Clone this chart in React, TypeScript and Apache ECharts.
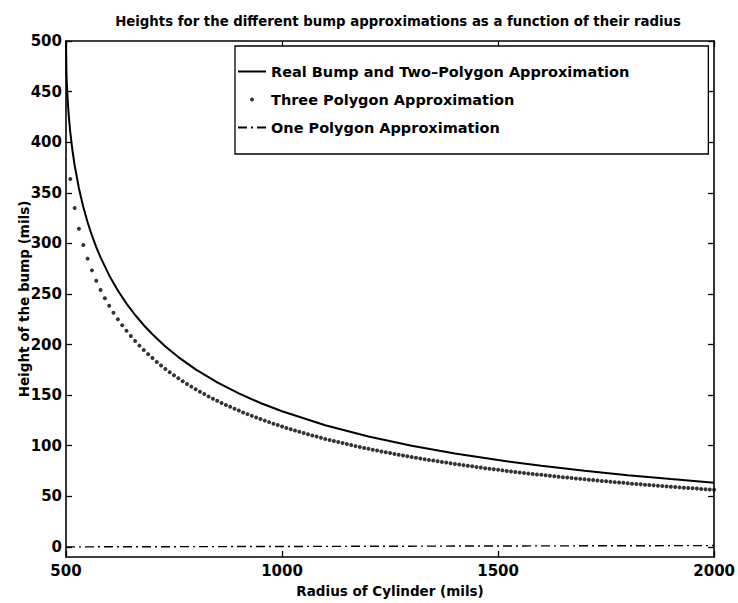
import React, { useEffect, useRef } from "react";
import * as echarts from "echarts";

const FONT = "'DejaVu Sans', 'Liberation Sans', sans-serif";

const titleText = "Heights for the different bump approximations as a function of their radius";
const xAxisName = "Radius of Cylinder (mils)";
const yAxisName = "Height of the bump (mils)";
const seriesNames = [
  "Real Bump and Two\u2013Polygon Approximation",
  "Three Polygon Approximation",
  "One Polygon Approximation",
];

const yTickValues = [0, 50, 100, 150, 200, 250, 300, 350, 400, 450, 500];

// Real bump (and two-polygon approximation)
const realRadius = [500, 501, 502, 504, 507, 510, 515, 520, 530, 540, 550, 560, 570, 580, 600, 620, 640, 660, 680, 700, 730, 760, 800, 850, 900, 950, 1000, 1100, 1200, 1300, 1400, 1500, 1600, 1700, 1800, 1900, 2000];
const realHeight = [500, 469.4, 457.2, 440.6, 423.0, 409.5, 391.6, 377.2, 354.2, 336.0, 320.9, 307.8, 296.3, 286.1, 268.3, 253.4, 240.5, 229.2, 219.1, 210.1, 198.1, 187.6, 175.5, 162.6, 151.7, 142.2, 134.0, 120.2, 109.1, 100.0, 92.3, 85.8, 80.1, 75.2, 70.8, 67.0, 63.5];

// Three polygon approximation (dots)
const threeRadius = [
  510, 520, 530, 540, 550, 560, 570, 580, 590, 600,
  610, 620, 630, 640, 650, 660, 670, 680, 690, 700,
  710, 720, 730, 740, 750, 760, 770, 780, 790, 800,
  810, 820, 830, 840, 850, 860, 870, 880, 890, 900,
  910, 920, 930, 940, 950, 960, 970, 980, 990, 1000,
  1010, 1020, 1030, 1040, 1050, 1060, 1070, 1080, 1090, 1100,
  1110, 1120, 1130, 1140, 1150, 1160, 1170, 1180, 1190, 1200,
  1210, 1220, 1230, 1240, 1250, 1260, 1270, 1280, 1290, 1300,
  1310, 1320, 1330, 1340, 1350, 1360, 1370, 1380, 1390, 1400,
  1410, 1420, 1430, 1440, 1450, 1460, 1470, 1480, 1490, 1500,
  1510, 1520, 1530, 1540, 1550, 1560, 1570, 1580, 1590, 1600,
  1610, 1620, 1630, 1640, 1650, 1660, 1670, 1680, 1690, 1700,
  1710, 1720, 1730, 1740, 1750, 1760, 1770, 1780, 1790, 1800,
  1810, 1820, 1830, 1840, 1850, 1860, 1870, 1880, 1890, 1900,
  1910, 1920, 1930, 1940, 1950, 1960, 1970, 1980, 1990, 2000,
];
const threeHeight = [
  363.6, 335.0, 314.5, 298.4, 284.9, 273.3, 263.1, 254.0, 245.8, 238.3,
  231.4, 225.0, 219.1, 213.6, 208.4, 203.5, 198.9, 194.6, 190.5, 186.6,
  182.8, 179.3, 175.9, 172.7, 169.6, 166.6, 163.8, 161.0, 158.4, 155.8,
  153.4, 151.0, 148.7, 146.5, 144.4, 142.3, 140.3, 138.4, 136.5, 134.7,
  132.9, 131.2, 129.5, 127.9, 126.3, 124.8, 123.3, 121.8, 120.4, 119.0,
  117.6, 116.3, 115.0, 113.7, 112.5, 111.3, 110.1, 109.0, 107.8, 106.7,
  105.7, 104.6, 103.6, 102.6, 101.6, 100.6, 99.6, 98.7, 97.8, 96.9,
  96.0, 95.2, 94.3, 93.5, 92.7, 91.9, 91.1, 90.3, 89.5, 88.8,
  88.1, 87.3, 86.6, 85.9, 85.3, 84.6, 83.9, 83.3, 82.6, 82.0,
  81.4, 80.8, 80.2, 79.6, 79.0, 78.4, 77.8, 77.3, 76.7, 76.2,
  75.6, 75.1, 74.6, 74.1, 73.6, 73.1, 72.6, 72.1, 71.6, 71.2,
  70.7, 70.2, 69.8, 69.3, 68.9, 68.5, 68.0, 67.6, 67.2, 66.8,
  66.4, 66.0, 65.6, 65.2, 64.8, 64.4, 64.0, 63.6, 63.3, 62.9,
  62.5, 62.2, 61.8, 61.5, 61.1, 60.8, 60.5, 60.1, 59.8, 59.5,
  59.1, 58.8, 58.5, 58.2, 57.9, 57.6, 57.3, 57.0, 56.7, 56.4,
];

// One polygon approximation (dash-dot, near zero)
const oneRadius = [500, 1000, 1500, 2000];
const oneHeight = [0, 0.4, 0.9, 1.3];

const zip = (xs: number[], ys: number[]) => xs.map((x, i) => [x, ys[i]]);

const axisLineStyle = { color: "#000", width: 1.6 };
const tickStyle = { color: "#000", width: 1.3 };

export default function App() {
  const ref = useRef<HTMLDivElement>(null);
  useEffect(() => {
    const chart = echarts.init(ref.current!, null, { renderer: "svg" });
    const labelStyle = { fontFamily: FONT, fontWeight: "bold" as const, fontSize: 15, color: "#000" };
    chart.setOption({
      animation: false,
      backgroundColor: "#fff",
      title: {
        text: titleText,
        left: 393,
        top: 10,
        textAlign: "center",
        textStyle: { fontFamily: FONT, fontWeight: "bold", fontSize: 13.3, color: "#000" },
      },
      grid: { left: 66, right: 21, top: 41, bottom: 45, containLabel: false },
      legend: {
        orient: "vertical",
        left: 235,
        top: 46,
        padding: [18, 79, 19, 2],
        itemGap: 13,
        itemWidth: 28,
        itemHeight: 4,
        backgroundColor: "#fff",
        borderColor: "#000",
        borderWidth: 1.3,
        borderRadius: 0,
        data: [
          { name: seriesNames[0], itemStyle: { opacity: 0 } },
          { name: seriesNames[1] },
          { name: seriesNames[2], itemStyle: { opacity: 0 } },
        ],
        textStyle: { fontFamily: FONT, fontWeight: "bold", fontSize: 14.5, color: "#000" },
      },
      xAxis: [
        {
          type: "value",
          position: "bottom",
          min: 500,
          max: 2000,
          interval: 500,
          name: xAxisName,
          nameLocation: "middle",
          nameGap: 27,
          nameTextStyle: { ...labelStyle, fontSize: 13.5 },
          axisLine: { show: true, onZero: false, lineStyle: axisLineStyle },
          axisTick: { show: true, inside: true, length: 6, lineStyle: tickStyle },
          axisLabel: { ...labelStyle, margin: 6, formatter: (v: number) => String(v) },
          splitLine: { show: false },
        },
        {
          type: "value",
          position: "top",
          min: 500,
          max: 2000,
          interval: 500,
          axisLine: { show: true, onZero: false, lineStyle: axisLineStyle },
          axisTick: { show: true, inside: true, length: 6, lineStyle: tickStyle },
          axisLabel: { show: false },
          splitLine: { show: false },
        },
      ],
      yAxis: [
        {
          type: "value",
          position: "left",
          min: -10,
          max: 500,
          name: yAxisName,
          nameLocation: "middle",
          nameGap: 35,
          nameMoveOverlap: false,
          nameTextStyle: { ...labelStyle, fontSize: 13.5 },
          axisLine: { show: true, onZero: false, lineStyle: axisLineStyle },
          axisTick: { show: true, inside: true, length: 6, lineStyle: tickStyle, customValues: yTickValues },
          axisLabel: { ...labelStyle, margin: 4, customValues: yTickValues },
          splitLine: { show: false },
        },
        {
          type: "value",
          position: "right",
          min: -10,
          max: 500,
          axisLine: { show: true, onZero: false, lineStyle: axisLineStyle },
          axisTick: { show: true, inside: true, length: 6, lineStyle: tickStyle, customValues: yTickValues },
          axisLabel: { show: false, customValues: yTickValues },
          splitLine: { show: false },
        },
      ],
      series: [
        {
          name: seriesNames[0],
          type: "line",
          xAxisIndex: 0,
          yAxisIndex: 0,
          symbol: "none",
          data: zip(realRadius, realHeight),
          lineStyle: { color: "#000", width: 2 },
          itemStyle: { color: "#000" },
          z: 3,
        },
        {
          name: seriesNames[1],
          type: "scatter",
          xAxisIndex: 0,
          yAxisIndex: 0,
          symbol: "circle",
          symbolSize: 4,
          data: zip(threeRadius, threeHeight),
          itemStyle: { color: "#000" },
          z: 3,
        },
        {
          name: seriesNames[2],
          type: "line",
          xAxisIndex: 0,
          yAxisIndex: 0,
          symbol: "none",
          data: zip(oneRadius, oneHeight),
          lineStyle: { color: "#000", width: 1.4, type: [9, 4, 2, 4] },
          itemStyle: { color: "#000" },
          z: 3,
        },
      ],
    });
    return () => chart.dispose();
  }, []);
  return (
    <div
      ref={ref}
      style={{ width: 738, height: 603, position: "absolute", left: 0, top: 0, background: "#fff" }}
    />
  );
}
